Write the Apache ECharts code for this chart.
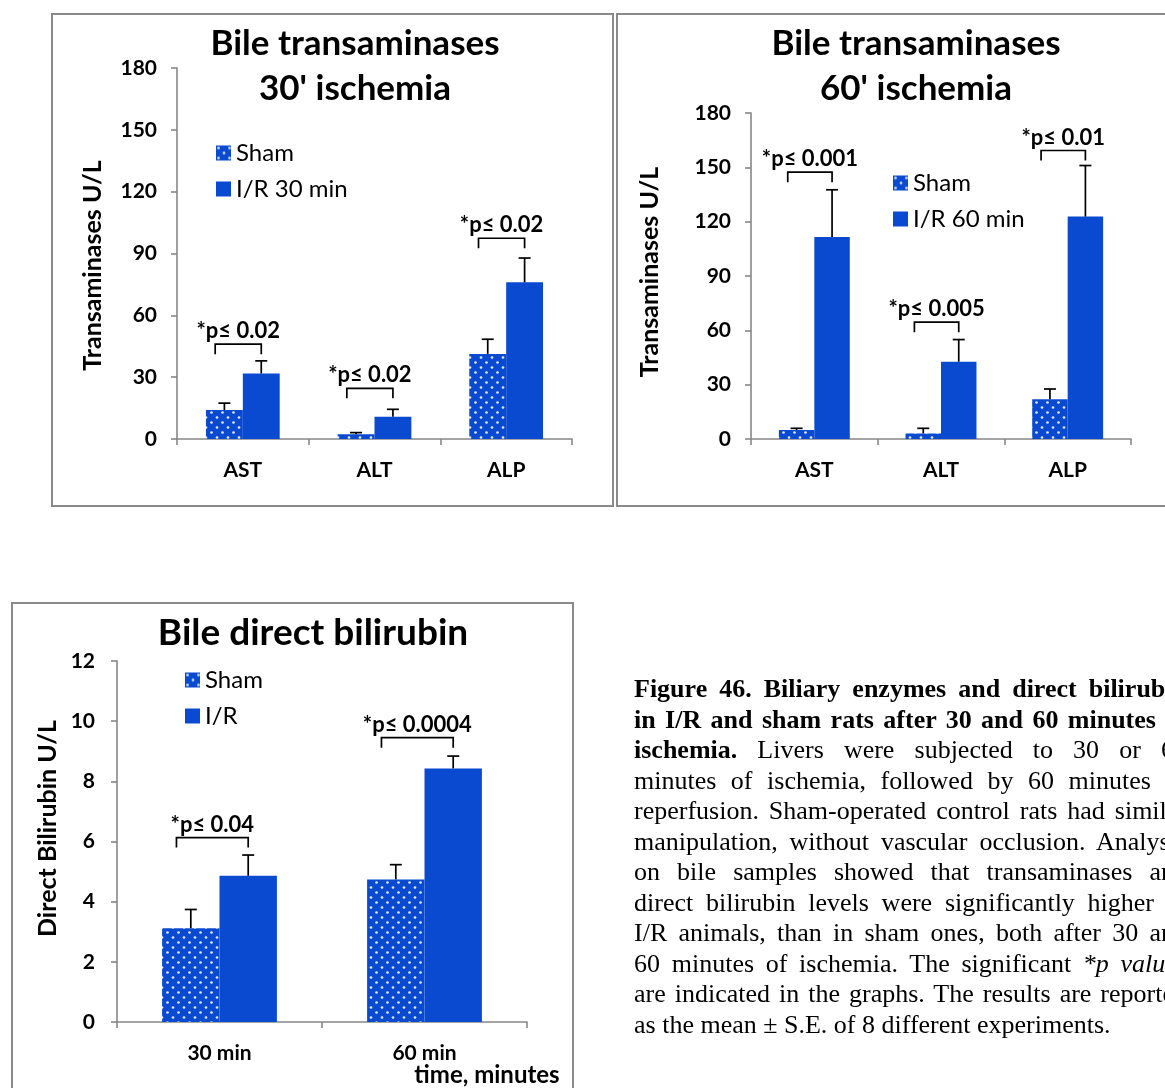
<!DOCTYPE html>
<html>
<head>
<meta charset="utf-8">
<script src="https://cdn.jsdelivr.net/npm/echarts@6/dist/echarts.min.js"></script>
<style>
  html, body { margin: 0; padding: 0; width: 1165px; height: 1088px; overflow: hidden; background: #fff; }
  #chart { position: absolute; left: 0; top: 0; width: 1165px; height: 1088px; }
  #caption { position: absolute; left: 634px; top: 674px; width: 553px;
    font-family: 'Liberation Serif', 'Times New Roman', serif; font-size: 26px; line-height: 30.5px; color: #000; }
  #caption div { text-align: justify; text-align-last: justify; white-space: nowrap; }
  #caption div.last { text-align-last: left; }
</style>
</head>
<body>
<div id="chart"></div>
<div id="caption">
  <div><b>Figure 46. Biliary enzymes and direct bilirubin</b></div>
  <div><b>in I/R and sham rats after 30 and 60 minutes of</b></div>
  <div><b>ischemia.</b> Livers were subjected to 30 or 60</div>
  <div>minutes of ischemia, followed by 60 minutes of</div>
  <div>reperfusion. Sham-operated control rats had similar</div>
  <div>manipulation, without vascular occlusion. Analysis</div>
  <div>on bile samples showed that transaminases and</div>
  <div>direct bilirubin levels were significantly higher in</div>
  <div>I/R animals, than in sham ones, both after 30 and</div>
  <div>60 minutes of ischemia. The significant <i>*p values</i></div>
  <div>are indicated in the graphs. The results are reported</div>
  <div class="last">as the mean ± S.E. of 8 different experiments.</div>
</div>
<script>
// ---- data ----
const enzymeCats = ['AST', 'ALT', 'ALP'];

// 30' ischemia (U/L): means and mean + S.E.
const sham30 = [14.1, 2.3, 41.3];
const sham30Top = [17.4, 3.1, 48.4];
const ir30 = [31.8, 10.8, 76.0];
const ir30Top = [37.9, 14.4, 87.8];
const p30 = ['*p≤ 0.02', '*p≤ 0.02', '*p≤ 0.02'];
const bracket30 = [46.0, 24.6, 97.4];

// 60' ischemia (U/L)
const sham60 = [5.0, 3.1, 21.9];
const sham60Top = [5.9, 5.9, 27.6];
const ir60 = [111.6, 42.7, 122.8];
const ir60Top = [137.6, 54.9, 151.0];
const p60 = ['*p≤ 0.001', '*p≤ 0.005', '*p≤ 0.01'];
const bracket60 = [147.3, 64.5, 159.3];

// direct bilirubin (U/L)
const timeCats = ['30 min', '60 min'];
const shamBil = [3.12, 4.74];
const shamBilTop = [3.74, 5.23];
const irBil = [4.86, 8.43];
const irBilTop = [5.55, 8.84];
const pBil = ['*p≤ 0.04', '*p≤ 0.0004'];
const bracketBil = [6.13, 9.45];

const transTicks = [0, 180, 30];   // min, max, step
const bilTicks = [0, 12, 2];

// ---- styling ----
const FONT = 'Lato, "Open Sans", sans-serif';
const BLUE = '#0a4ad0';
const AXIS = '#878787';
const BAR_FRAC = 0.28;

function dotPattern() {
  const c = document.createElement('canvas');
  c.width = 11; c.height = 10;
  const g = c.getContext('2d');
  g.fillStyle = BLUE;
  g.fillRect(0, 0, 11, 10);
  g.fillStyle = 'rgba(232,240,255,0.95)';
  [[2.5, 2.5], [8, 7.5]].forEach(function (p) {
    g.beginPath(); g.arc(p[0], p[1], 1.35, 0, Math.PI * 2); g.fill();
  });
  return c;
}
const shamFill = { image: dotPattern(), repeat: 'repeat' };

function errorBarRender(side) {
  return function (params, api) {
    const i = api.value(0);
    const base = api.coord([i, api.value(1)]);
    const top = api.coord([i, api.value(2)]);
    const bw = api.size([1, 0])[0] * BAR_FRAC;
    const cx = base[0] + side * bw / 2;
    const st = { stroke: '#000', lineWidth: 1.7 };
    return {
      type: 'group',
      children: [
        { type: 'line', shape: { x1: cx, y1: base[1], x2: cx, y2: top[1] }, style: st },
        { type: 'line', shape: { x1: cx - 6, y1: top[1], x2: cx + 6, y2: top[1] }, style: st }
      ]
    };
  };
}

function bracketRender(labels) {
  return function (params, api) {
    const i = api.value(0);
    const p = api.coord([i, api.value(1)]);
    const bw = api.size([1, 0])[0] * BAR_FRAC;
    const x1 = p[0] - 0.75 * bw, x2 = p[0] + 0.5 * bw, y = p[1];
    return {
      type: 'group',
      children: [
        { type: 'polyline', shape: { points: [[x1, y + 10], [x1, y], [x2, y], [x2, y + 10]] },
          style: { stroke: '#000', lineWidth: 1.7, fill: null } },
        { type: 'text', x: (x1 + x2) / 2, y: y - 2,
          style: { text: labels[i], align: 'center', verticalAlign: 'bottom',
                   font: 'bold 22px ' + FONT, fill: '#000' } }
      ]
    };
  };
}

function xAxisOf(grid, cats) {
  return {
    type: 'category', gridIndex: grid, data: cats,
    axisLine: { lineStyle: { color: AXIS, width: 1.6 } },
    axisTick: { show: true, length: 6, lineStyle: { color: AXIS, width: 1.6 } },
    axisLabel: { color: '#000', fontFamily: FONT, fontWeight: 'bold', fontSize: 21, margin: 21 }
  };
}

// namePad shifts the rotated axis title along the axis (right pad moves it down)
function yAxisOf(grid, ticks, name, gap, labelMargin, namePad) {
  return {
    type: 'value', gridIndex: grid, min: ticks[0], max: ticks[1], interval: ticks[2],
    name: name, nameLocation: 'middle', nameRotate: 90, nameGap: gap,
    nameTextStyle: { color: '#000', fontFamily: FONT, fontWeight: 'bold', fontSize: 25, padding: namePad },
    splitLine: { show: false },
    axisLine: { show: true, lineStyle: { color: AXIS, width: 1.6 } },
    axisTick: { show: true, length: 6, lineStyle: { color: AXIS, width: 1.6 } },
    axisLabel: { color: '#000', fontFamily: FONT, fontWeight: 'bold', fontSize: 21, margin: labelMargin }
  };
}

function panelSeries(grid, irName, sham, shamTop, ir, irTop, labels, brackets) {
  return [
    { name: 'Sham', type: 'bar', xAxisIndex: grid, yAxisIndex: grid, data: sham,
      barWidth: (BAR_FRAC * 100) + '%', barGap: '0%', itemStyle: { color: shamFill } },
    { name: irName, type: 'bar', xAxisIndex: grid, yAxisIndex: grid, data: ir,
      barWidth: (BAR_FRAC * 100) + '%', barGap: '0%', itemStyle: { color: BLUE } },
    { type: 'custom', xAxisIndex: grid, yAxisIndex: grid, z: 5, silent: true,
      renderItem: errorBarRender(-1), data: sham.map(function (v, i) { return [i, v, shamTop[i]]; }) },
    { type: 'custom', xAxisIndex: grid, yAxisIndex: grid, z: 5, silent: true,
      renderItem: errorBarRender(1), data: ir.map(function (v, i) { return [i, v, irTop[i]]; }) },
    { type: 'custom', xAxisIndex: grid, yAxisIndex: grid, z: 6, silent: true,
      renderItem: bracketRender(labels), data: brackets.map(function (v, i) { return [i, v]; }) }
  ];
}

function legendOf(left, top, irName) {
  return {
    orient: 'vertical', left: left, top: top, padding: 0, itemGap: 12,
    itemWidth: 15, itemHeight: 15, icon: 'rect', selectedMode: false,
    data: ['Sham', irName],
    textStyle: { color: '#000', fontFamily: FONT, fontSize: 24, lineHeight: 24 }
  };
}

function titleOf(text, x, top, size) {
  return {
    text: text, left: x, top: top, textAlign: 'center', padding: 0,
    textStyle: { color: '#000', fontFamily: FONT, fontWeight: 'bold', fontSize: size, lineHeight: 45 }
  };
}

const chart = echarts.init(document.getElementById('chart'), null, { renderer: 'canvas' });

chart.setOption({
  animation: false,
  backgroundColor: '#fff',
  title: [
    titleOf("Bile transaminases\n30' ischemia", 355, 21, 35),
    titleOf("Bile transaminases\n60' ischemia", 916, 21, 35),
    titleOf('Bile direct bilirubin', 313, 611, 37)
  ],
  legend: [
    legendOf(216, 141, 'I/R 30 min'),
    legendOf(893, 171, 'I/R 60 min'),
    legendOf(185, 668, 'I/R')
  ],
  grid: [
    { left: 177, top: 68, width: 395, height: 371 },
    { left: 751, top: 113, width: 380, height: 326 },
    { left: 117, top: 661, width: 410, height: 361 }
  ],
  xAxis: [xAxisOf(0, enzymeCats), xAxisOf(1, enzymeCats), xAxisOf(2, timeCats)],
  yAxis: [
    yAxisOf(0, transTicks, 'Transaminases U/L', 72, 20, [0, 24, 0, 0]),
    yAxisOf(1, transTicks, 'Transaminases U/L', 89, 20, [0, 0, 0, 8]),
    yAxisOf(2, bilTicks, 'Direct Bilirubin U/L', 57, 22, [0, 0, 0, 26])
  ],
  series: [].concat(
    panelSeries(0, 'I/R 30 min', sham30, sham30Top, ir30, ir30Top, p30, bracket30),
    panelSeries(1, 'I/R 60 min', sham60, sham60Top, ir60, ir60Top, p60, bracket60),
    panelSeries(2, 'I/R', shamBil, shamBilTop, irBil, irBilTop, pBil, bracketBil)
  ),
  graphic: [
    // panel frames
    { type: 'rect', shape: { x: 52, y: 14, width: 561, height: 492 },
      style: { fill: null, stroke: '#8a8a8a', lineWidth: 2 }, silent: true },
    { type: 'rect', shape: { x: 617, y: 14, width: 560, height: 492 },
      style: { fill: null, stroke: '#8a8a8a', lineWidth: 2 }, silent: true },
    { type: 'rect', shape: { x: 12, y: 603, width: 561, height: 500 },
      style: { fill: null, stroke: '#8a8a8a', lineWidth: 2 }, silent: true },
    // bilirubin x-axis title
    { type: 'text', x: 487, y: 1075, silent: true,
      style: { text: 'time, minutes', align: 'center', verticalAlign: 'middle',
               font: 'bold 24px ' + FONT, fill: '#000' } }
  ]
});
</script>
</body>
</html>
